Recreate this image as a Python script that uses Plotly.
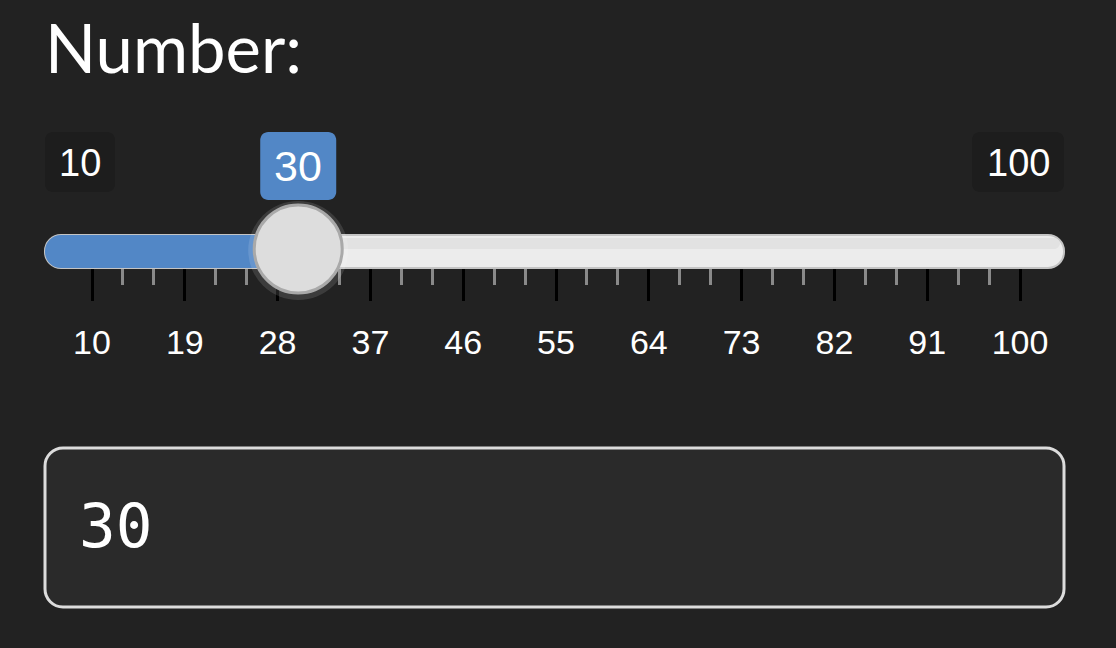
import plotly.graph_objects as go

# --- slider values ---
SLIDER_LABEL = "Number:"
SLIDER_MIN = 10
SLIDER_MAX = 100
SLIDER_VALUE = 30
TICK_VALUES = [10, 19, 28, 37, 46, 55, 64, 73, 82, 91, 100]
TICK_LABELS = [str(v) for v in TICK_VALUES]
MINOR_TICKS = [13, 16, 22, 25, 31, 34, 40, 43, 49, 52, 58, 61, 67, 70, 76, 79, 85, 88, 94, 97]

W, H = 1116, 648
BG = "#222222"
BLUE = "#5287c6"

# pixel layout of the slider widget (x in px mapped onto value axis)
PX_MIN, PX_MAX = 92, 1020
PX_PER_UNIT = (PX_MAX - PX_MIN) / (SLIDER_MAX - SLIDER_MIN)
X_RANGE = [SLIDER_MIN - PX_MIN / PX_PER_UNIT, SLIDER_MAX + (W - PX_MAX) / PX_PER_UNIT]


def ux(px):
    # convert a horizontal pixel length to value units
    return px / PX_PER_UNIT


def rounded_rect(x0, x1, y0, y1, r_px):
    rx, ry = ux(r_px), r_px
    k = 0.5523
    return (
        f"M {x0 + rx},{y0} L {x1 - rx},{y0} "
        f"C {x1 - rx + k * rx},{y0} {x1},{y0 + ry - k * ry} {x1},{y0 + ry} "
        f"L {x1},{y1 - ry} "
        f"C {x1},{y1 - ry + k * ry} {x1 - rx + k * rx},{y1} {x1 - rx},{y1} "
        f"L {x0 + rx},{y1} "
        f"C {x0 + rx - k * rx},{y1} {x0},{y1 - ry + k * ry} {x0},{y1 - ry} "
        f"L {x0},{y0 + ry} "
        f"C {x0},{y0 + ry - k * ry} {x0 + rx - k * rx},{y0} {x0 + rx},{y0} Z"
    )


track_left = SLIDER_MIN - ux(47)
track_right = SLIDER_MAX + ux(44)
TRACK_Y0, TRACK_Y1 = 235, 268
THUMB_Y, THUMB_R = 249, 44

fig = go.Figure()
shapes = []

# track
shapes.append(dict(type="path", path=rounded_rect(track_left, track_right, TRACK_Y0, TRACK_Y1, 16),
                   fillcolor="#ececec", line=dict(color="#c4c4c4", width=2), layer="below"))
shapes.append(dict(type="path", path=rounded_rect(track_left + ux(4), track_right - ux(4), TRACK_Y0 + 3, TRACK_Y0 + 14, 6),
                   fillcolor="#e2e2e2", line=dict(width=0), layer="below"))
# filled part
shapes.append(dict(type="path", path=rounded_rect(track_left, SLIDER_VALUE, TRACK_Y0, TRACK_Y1, 16),
                   fillcolor=BLUE, line=dict(width=0), layer="below"))
# thumb glow + thumb
shapes.append(dict(type="circle", x0=SLIDER_VALUE - ux(THUMB_R + 6), x1=SLIDER_VALUE + ux(THUMB_R + 6),
                   y0=THUMB_Y - THUMB_R - 4, y1=THUMB_Y + THUMB_R + 7,
                   fillcolor="rgba(255,255,255,0.12)", line=dict(width=0)))
shapes.append(dict(type="circle", x0=SLIDER_VALUE - ux(THUMB_R), x1=SLIDER_VALUE + ux(THUMB_R),
                   y0=THUMB_Y - THUMB_R, y1=THUMB_Y + THUMB_R,
                   fillcolor="#dddddd", line=dict(color="#a9a9a9", width=3)))

# min / max / value bubbles
shapes.append(dict(type="path", path=rounded_rect(track_left, track_left + ux(70), 132, 192, 8),
                   fillcolor="#1d1d1d", line=dict(width=0), layer="below"))
shapes.append(dict(type="path", path=rounded_rect(track_right - ux(92), track_right, 132, 192, 8),
                   fillcolor="#1d1d1d", line=dict(width=0), layer="below"))
shapes.append(dict(type="path", path=rounded_rect(SLIDER_VALUE - ux(38), SLIDER_VALUE + ux(38), 132, 200, 8),
                   fillcolor=BLUE, line=dict(width=0)))

# numeric input box
shapes.append(dict(type="path", path=rounded_rect(track_left, track_right, 448, 607, 18),
                   fillcolor="#2a2a2a", line=dict(color="#dcdcdc", width=3), layer="below"))

label_font = dict(family="Liberation Sans, Arial, sans-serif", color="white")
annotations = [
    dict(x=43 / W, y=1 - 47 / H, xref="paper", yref="paper", text=SLIDER_LABEL, showarrow=False,
         xanchor="left", yanchor="middle", font=dict(family="Lato", size=67, color="white")),
    dict(x=track_left + ux(35), y=163, text=str(SLIDER_MIN), showarrow=False,
         font=dict(size=38, **label_font)),
    dict(x=track_right - ux(46), y=163, text=str(SLIDER_MAX), showarrow=False,
         font=dict(size=38, **label_font)),
    dict(x=SLIDER_VALUE, y=166, text=str(SLIDER_VALUE), showarrow=False,
         font=dict(size=43, **label_font)),
    dict(x=track_left + ux(32), y=525, text=str(SLIDER_VALUE), showarrow=False, xanchor="left",
         font=dict(family="DejaVu Sans Mono, monospace", size=61, color="white")),
]

fig.update_layout(
    width=W, height=H,
    margin=dict(l=0, r=0, t=0, b=0),
    paper_bgcolor=BG, plot_bgcolor=BG,
    showlegend=False,
    shapes=shapes,
    annotations=annotations,
    xaxis=dict(
        range=X_RANGE, anchor="free", position=1 - TRACK_Y1 / H,
        showgrid=False, zeroline=False, showline=False,
        tickmode="array", tickvals=TICK_VALUES, ticktext=TICK_LABELS,
        ticks="outside", ticklen=32, tickwidth=3, tickcolor="black",
        ticklabelstandoff=12,
        tickfont=dict(size=34, **label_font),
        minor=dict(tickmode="array", tickvals=MINOR_TICKS, ticks="outside", ticklen=16,
                   tickwidth=3, tickcolor="#8a8a8a", showgrid=False),
        fixedrange=True,
    ),
    yaxis=dict(range=[H, 0], visible=False, fixedrange=True),
)

# page body has a default margin; drop it so the figure fills the window
fig.write_html("out.html", config={"displayModeBar": False},
               post_script="document.body.style.margin='0';document.body.style.background='%s';" % BG)
